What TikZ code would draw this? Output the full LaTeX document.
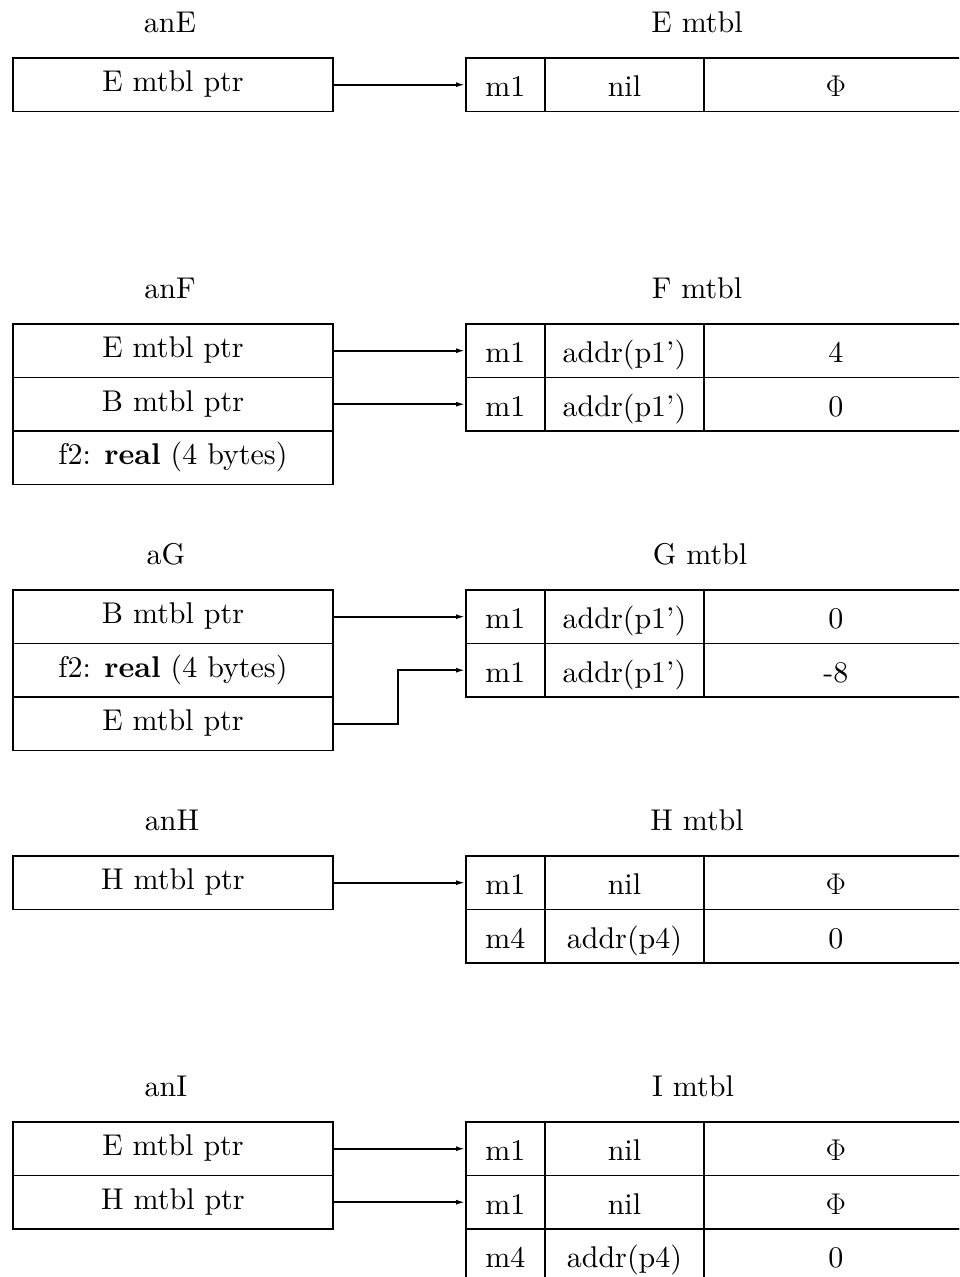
\RequirePackage{fix-cm}
\documentclass[tikz,border=0pt]{standalone}
\usetikzlibrary{arrows.meta}
\font\mainf="[lmroman10-regular]:mapping=tex-text" at 30pt
\font\boldf="[lmroman10-bold]:mapping=tex-text" at 30pt
\newcommand{\bfw}[1]{{\boldf #1}}
\tikzset{
  base/.style={font=\fontsize{30}{36}\selectfont\mainf},
  lcell/.style={base, draw, line width=1.9pt, minimum width=320pt, minimum height=53.5pt,
    inner sep=0pt, text height=21pt, text depth=7pt, anchor=north west},
  rcell/.style={base, draw, line width=1.9pt, minimum height=53.5pt,
    inner sep=0pt, text height=25pt, text depth=1pt, anchor=north west},
  mcol/.style={rcell, minimum width=79pt},
  acol/.style={rcell, minimum width=159pt},
  vcol/.style={rcell, minimum width=264pt},
  lbl/.style={base, anchor=base, inner sep=0pt},
  ptr/.style={line width=1.6pt, -{Latex[length=9pt,width=5pt]}},
}
\newcommand{\mrow}[5]{% name, y, m, addr, value
  \node[mcol] (#1m) at (465,#2) {#3};
  \node[acol] (#1a) at (544,#2) {#4};
  \node[vcol] (#1v) at (703,#2) {#5};
}
\begin{document}
\begin{tikzpicture}[x=1pt,y=-1pt]
\begin{scope}
\clip (0,0) rectangle (959,1277);
% ---------- E ----------
\node[lbl] (anE) at (170,32) {anE};
\node[lbl] (Emt) at (697,32) {E mtbl};
\node[lcell] (eL1) at (12,57) {E mtbl ptr};
\mrow{eR1}{57}{m1}{nil}{$\Phi$}
\draw[ptr] (eL1.east) -- (eR1m.west);
% ---------- F ----------
\node[lbl] (anF) at (170,298) {anF};
\node[lbl] (Fmt) at (697,298) {F mtbl};
\node[lcell] (fL1) at (12,323) {E mtbl ptr};
\node[lcell] (fL2) at (12,376.5) {B mtbl ptr};
\node[lcell] (fL3) at (12,430) {f2: \bfw{real} (4 bytes)};
\mrow{fR1}{323}{m1}{addr(p1')}{4}
\mrow{fR2}{376.5}{m1}{addr(p1')}{0}
\draw[ptr] (fL1.east) -- (fR1m.west);
\draw[ptr] (fL2.east) -- (fR2m.west);
% ---------- G ----------
\node[lbl] (aG) at (166,564) {aG};
\node[lbl] (Gmt) at (700,564) {G mtbl};
\node[lcell] (gL1) at (12,589) {B mtbl ptr};
\node[lcell] (gL2) at (12,642.5) {f2: \bfw{real} (4 bytes)};
\node[lcell] (gL3) at (12,696) {E mtbl ptr};
\mrow{gR1}{589}{m1}{addr(p1')}{0}
\mrow{gR2}{642.5}{m1}{addr(p1')}{-8}
\draw[ptr] (gL1.east) -- (gR1m.west);
\coordinate (gbend) at (398,0);
\draw[ptr] (gL3.east) -| (gbend |- gR2m.west) -- (gR2m.west);
% ---------- H ----------
\node[lbl] (anH) at (172,830) {anH};
\node[lbl] (Hmt) at (697,830) {H mtbl};
\node[lcell] (hL1) at (12,855) {H mtbl ptr};
\mrow{hR1}{855}{m1}{nil}{$\Phi$}
\mrow{hR2}{908.5}{m4}{addr(p4)}{0}
\draw[ptr] (hL1.east) -- (hR1m.west);
% ---------- I ----------
\node[lbl] (anI) at (166,1096) {anI};
\node[lbl] (Imt) at (693,1096) {I mtbl};
\node[lcell] (iL1) at (12,1121) {E mtbl ptr};
\node[lcell] (iL2) at (12,1174.5) {H mtbl ptr};
\mrow{iR1}{1121}{m1}{nil}{$\Phi$}
\mrow{iR2}{1174.5}{m1}{nil}{$\Phi$}
\mrow{iR3}{1228}{m4}{addr(p4)}{0}
\draw[ptr] (iL1.east) -- (iR1m.west);
\draw[ptr] (iL2.east) -- (iR2m.west);
\end{scope}
\pgfresetboundingbox
\useasboundingbox (0,0) rectangle (959,1277);
\end{tikzpicture}
\end{document}
